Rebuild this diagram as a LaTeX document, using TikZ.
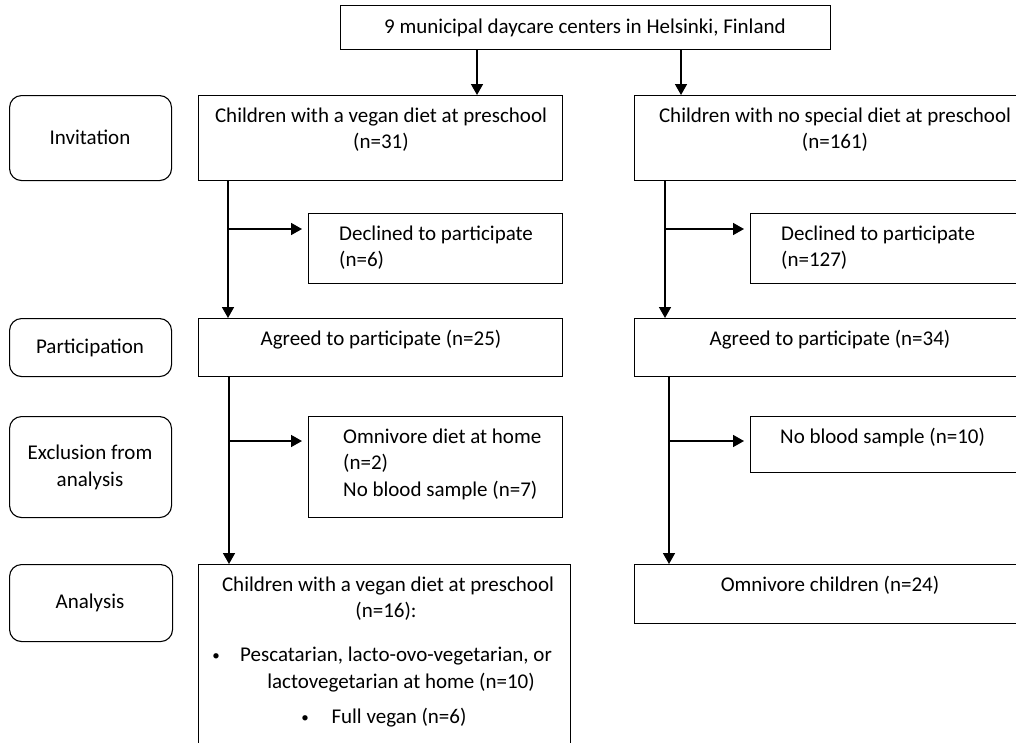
\documentclass[tikz,border=0pt]{standalone}
\usepackage{fontspec}
\setmainfont{Carlito}
\usetikzlibrary{arrows.meta}
\begin{document}
\begin{tikzpicture}[x=1pt,y=-1pt,
  box/.style={draw=black, line width=1.1pt, fill=white, inner sep=0pt, anchor=north west},
  rbox/.style={box, rounded corners=12pt},
  txt/.style={inner sep=0pt, font=\fontsize{21}{26.5}\selectfont, anchor=base},
  ltxt/.style={txt, anchor=base west},
  bul/.style={inner sep=0pt, font=\fontsize{15}{18}\selectfont, anchor=base},
  arr/.style={line width=1.6pt, -{Triangle[length=11pt,width=12pt]}},
]
\useasboundingbox (0,0) rectangle (1016,742);
% boxes
\node[box, minimum width=490pt, minimum height=44pt] (top) at (340,5) {};
\node[rbox, minimum width=162pt, minimum height=85pt] (inv) at (9,95) {};
\node[rbox, minimum width=162pt, minimum height=58pt] (par) at (9,318) {};
\node[rbox, minimum width=162pt, minimum height=101pt] (exc) at (9,416) {};
\node[rbox, minimum width=163pt, minimum height=77pt] (ana) at (9,564) {};
\node[box, minimum width=364pt, minimum height=85pt] (vegL) at (198,95) {};
\node[box, minimum width=394pt, minimum height=85pt] (vegR) at (634,95) {};
\node[box, minimum width=254pt, minimum height=70pt] (decL) at (308,213) {};
\node[box, minimum width=278pt, minimum height=70pt] (decR) at (750,213) {};
\node[box, minimum width=364pt, minimum height=58pt] (agrL) at (198,318) {};
\node[box, minimum width=394pt, minimum height=58pt] (agrR) at (634,318) {};
\node[box, minimum width=254pt, minimum height=101pt] (excL) at (308,416) {};
\node[box, minimum width=278pt, minimum height=56pt] (excR) at (750,416) {};
\node[box, minimum width=372pt, minimum height=200pt] (anaL) at (198,564) {};
\node[box, minimum width=394pt, minimum height=59pt] (anaR) at (634,564) {};
% texts
\node[txt] (ttop) at (585,33) {9 municipal daycare centers in Helsinki, Finland};
\node[txt] (tinv) at (90,144) {Invitation};
\node[txt] (tpar) at (90,353) {Participation};
\node[txt] (texc1) at (90,459) {Exclusion from};
\node[txt] (texc2) at (90,486) {analysis};
\node[txt] (tana) at (90,608) {Analysis};
\node[txt] (tvegL1) at (381,122) {Children with a vegan diet at preschool};
\node[txt] (tvegL2) at (381,148.5) {(n=31)};
\node[txt] (tvegR1) at (835,122) {Children with no special diet at preschool};
\node[txt] (tvegR2) at (835,148.5) {(n=161)};
\node[ltxt] (tdecL1) at (339,240) {Declined to participate};
\node[ltxt] (tdecL2) at (339,266.5) {(n=6)};
\node[ltxt] (tdecR1) at (781,240) {Declined to participate};
\node[ltxt] (tdecR2) at (781,266.5) {(n=127)};
\node[txt] (tagrL) at (381,345) {Agreed to participate (n=25)};
\node[txt] (tagrR) at (830,345) {Agreed to participate (n=34)};
\node[ltxt] (texcL1) at (343,443) {Omnivore diet at home};
\node[ltxt] (texcL2) at (343,469.5) {(n=2)};
\node[ltxt] (texcL3) at (343,496) {No blood sample (n=7)};
\node[ltxt] (texcR) at (780,443) {No blood sample (n=10)};
\node[txt] (tanaL1) at (388,591) {Children with a vegan diet at preschool};
\node[txt] (tanaL2) at (386,617.5) {(n=16):};
\node[bul] (tb1) at (216,660) {•};
\node[txt] (tanaL3) at (396,661) {Pescatarian, lacto-ovo-vegetarian, or};
\node[txt] (tanaL4) at (401,688) {lactovegetarian at home (n=10)};
\node[bul] (tb2) at (305,722) {•};
\node[txt] (tanaL5) at (399,723) {Full vegan (n=6)};
\node[txt] (tanaR) at (830,591) {Omnivore children (n=24)};
% connectors
\coordinate (tL) at (477,49);
\coordinate (tR) at (681,49);
\draw[arr] (tL) -- (tL |- vegL.north);
\draw[arr] (tR) -- (tR |- vegR.north);
\coordinate (jL1) at (228,229);
\coordinate (jR1) at (665,229);
\coordinate (jL2) at (229,441);
\coordinate (jR2) at (669,441);
\draw[arr] (jL1 |- vegL.south) -- (jL1 |- agrL.north);
\draw[arr] (jR1 |- vegR.south) -- (jR1 |- agrR.north);
\draw[arr, shorten >=6pt] (jL1) -- (jL1 -| decL.west);
\draw[arr, shorten >=6pt] (jR1) -- (jR1 -| decR.west);
\draw[arr] (jL2 |- agrL.south) -- (jL2 |- anaL.north);
\draw[arr] (jR2 |- agrR.south) -- (jR2 |- anaR.north);
\draw[arr, shorten >=6pt] (jL2) -- (jL2 -| excL.west);
\draw[arr, shorten >=6pt] (jR2) -- (jR2 -| excR.west);
\end{tikzpicture}
\end{document}
